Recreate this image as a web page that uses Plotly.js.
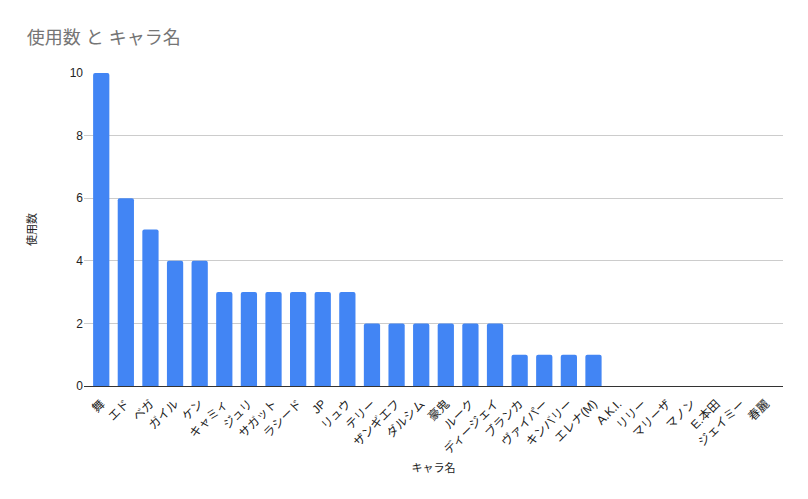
<!DOCTYPE html>
<html><head><meta charset="utf-8">
<script src="https://cdn.plot.ly/plotly-3.0.1.min.js"></script>
<style>html,body{margin:0;padding:0;background:#fff}#c{width:808px;height:499px}</style>
</head><body><div id="c"></div>
<script>
const categories = ["舞","エド","ベガ","ガイル","ケン","キャミィ","ジュリ","サガット","ラシード","JP","リュウ","テリー","ザンギエフ","ダルシム","豪鬼","ルーク","ディージェイ","ブランカ","ヴァイパー","キンバリー","エレナ(M)","A.K.I.","リリー","マリーザ","マノン","E.本田","ジェイミー","春麗"];
const usage = [10,6,5,4,4,3,3,3,3,3,3,2,2,2,2,2,2,1,1,1,1,0,0,0,0,0,0,0];
const yTicks = [0,2,4,6,8,10];
const font = "'Liberation Sans', Arial, 'Noto Sans CJK JP', sans-serif";
Plotly.newPlot('c', [{
  type:'bar', x:categories, y:usage, marker:{color:'#4285f4', cornerradius:2}, hoverinfo:'x+y'
}], {
  width:808, height:499,
  margin:{l:84,r:25,t:73,b:113},
  paper_bgcolor:'#fff', plot_bgcolor:'#fff',
  bargap:0.34,
  font:{family:font, size:12, color:'#222'},
  title:{text:'使用数 と キャラ名', x:0.033, xanchor:'left', y:0.925, yanchor:'middle', font:{family:font, size:18, color:'#757575'}},
  xaxis:{type:'category', range:[-0.7, 27.7], tickangle:-45, tickfont:{size:12, color:'#222'}, showgrid:false, showline:true, linecolor:'#333', ticks:'outside', tickcolor:'rgba(0,0,0,0)', ticklen:5,
    title:{text:'キャラ名', font:{size:11, color:'#222'}, standoff:8}, automargin:false},
  yaxis:{range:[0,10], tickvals:yTicks, ticktext:yTicks.map(String), gridcolor:'#cccccc', zeroline:false, showline:false,
    tickfont:{size:12, color:'#222'}, ticks:'', ticklen:0,
    title:{text:'使用数', font:{size:11, color:'#222'}, standoff:30}, automargin:false},
  showlegend:false
}, {displayModeBar:false, staticPlot:true});
</script></body></html>
